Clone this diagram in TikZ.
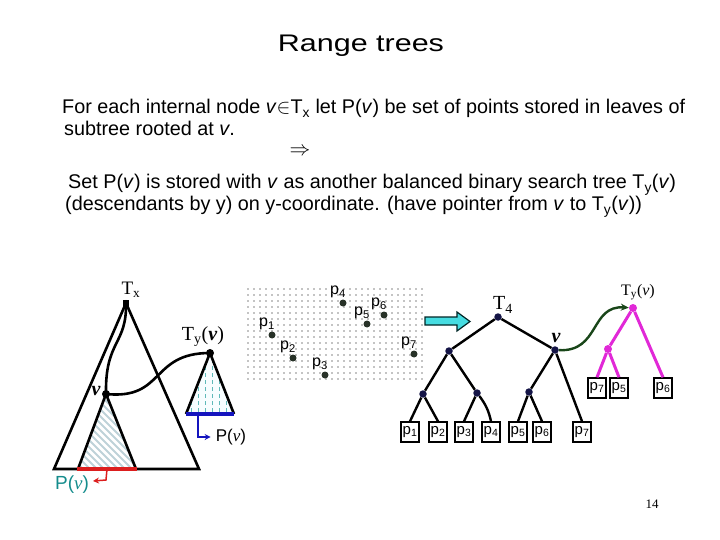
\documentclass[tikz,border=0pt]{standalone}
\usepackage{fontspec}
\setmainfont{Liberation Sans}
\newfontfamily\timesfont{Liberation Serif}
\newfontfamily\titlefont[FakeStretch=1.27]{Liberation Sans}
\usetikzlibrary{arrows.meta, positioning, calc}
\definecolor{navydot}{RGB}{20, 20, 70}
\definecolor{hatchgray}{RGB}{190, 210, 216}
\definecolor{dashteal}{RGB}{95, 185, 185}
\definecolor{pvteal}{RGB}{20, 140, 140}
\definecolor{pvred}{RGB}{220, 30, 30}
\definecolor{pvblue}{RGB}{20, 20, 190}
\definecolor{ymagenta}{RGB}{225, 40, 215}
\definecolor{ptrgreen}{RGB}{25, 70, 25}
\definecolor{arrowcyan}{RGB}{70, 220, 225}
\definecolor{dotgray}{RGB}{40, 50, 40}

\begin{document}
\begin{tikzpicture}[
    x=1pt, y=-1pt,
    tnode/.style={
        circle,
        fill=navydot,
        inner sep=0pt,
        minimum size=7.5pt
    },
    ynode/.style={
        circle,
        fill=ymagenta,
        inner sep=0pt,
        minimum size=8pt
    },
    ptdot/.style={
        circle,
        fill=dotgray,
        inner sep=0pt,
        minimum size=7pt
    },
    leafbox/.style={
        draw,
        line width=1.4pt,
        minimum width=18pt,
        minimum height=20pt,
        inner sep=0pt,
        font=\fontsize{15}{15}\selectfont
    },
    ptlabel/.style={
        inner sep=0pt,
        font=\fontsize{16}{16}\selectfont
    },
    treelabel/.style={
        inner sep=0pt,
        font=\timesfont\fontsize{19}{19}\selectfont
    },
    bodytext/.style={
        anchor=base west,
        inner sep=0pt,
        font=\fontsize{19.8}{19.8}\selectfont
    },
    edge/.style={line width=2.4pt},
    yedge/.style={line width=3pt, draw=ymagenta},
    curve/.style={line width=2.6pt}
]
    \useasboundingbox (0,0) rectangle (720,540);

    % Title and text
    \node[anchor=base, inner sep=0pt, font=\titlefont\fontsize{24}{24}\selectfont] (title) at (361,52) {Range trees};
    \node[bodytext] (line1) at (62,114) {For each internal node \textit{v}$\in$T\textsubscript{x} let P(\textit{v}) be set of points stored in leaves of};
    \node[bodytext] (line2) at (64,136) {subtree rooted at \textit{v}.};
    \node[inner sep=0pt, font=\fontsize{19.8}{19.8}\selectfont] (implies) at (300,152) {$\Rightarrow$};
    \node[bodytext] (line3) at (68,189) {Set P(\textit{v}) is stored with \textit{v} as another balanced binary search tree T\textsubscript{y}(\textit{v})};
    \node[bodytext] (line4) at (65,211) {(descendants by y) on y-coordinate. (have pointer from \textit{v} to T\textsubscript{y}(\textit{v}))};

    % Left: T_x with the subtree of v
    \node[fill, inner sep=0pt, minimum size=6pt] (txtop) at (126,303) {};
    \node[treelabel] (txlabel) at (131,290) {T\textsubscript{x}};
    \draw[line width=2.6pt] (txtop.center) -- (54,469) -- (199,469) -- cycle;
    \node[circle, fill, inner sep=0pt, minimum size=8pt] (vx) at (106,394) {};
    \node[treelabel, font=\timesfont\bfseries\itshape\fontsize{20}{20}\selectfont] (vxlabel) at (96,391) {v};
    \begin{scope}
        \clip (vx.center) -- (78,469) -- (136,469) -- cycle;
        \foreach \s in {-20,-13,...,130}
            \draw[hatchgray, line width=2pt] (\s,380) -- ++(100,100);
    \end{scope}
    \draw[line width=2.6pt] (78,469) -- (vx.center) -- (136,469);
    \draw[pvred, line width=3.5pt] (77,469) -- coordinate (redmid) (137,469);
    \node[inner sep=0pt, text=pvteal, font=\fontsize{19}{19}\selectfont] (pvleft) at (72,485) {P({\timesfont\itshape v})};
    \draw[pvred, line width=1.5pt, -{Stealth[length=6pt, width=6pt]}] (redmid) -- ++(-1,11) -- ++(-13,1);

    % Left: T_y(v)
    \node[circle, fill, inner sep=0pt, minimum size=8pt] (tyroot) at (210,353) {};
    \node[treelabel, font=\timesfont\fontsize{20}{20}\selectfont] (tylabel) at (203,337) {T\textsubscript{y}(\textbf{\textit{v}})};
    \fill[cyan!3] (tyroot.center) -- (186,414) -- (234,414) -- cycle;
    \begin{scope}
        \clip (tyroot.center) -- (186,414) -- (234,414) -- cycle;
        \foreach \x in {191,198,...,232}
            \draw[dashteal, line width=1pt, dash pattern=on 4pt off 3pt] (\x,352) -- (\x,414);
    \end{scope}
    \draw[line width=2.6pt] (186,414) -- (tyroot.center) -- (234,414);
    \draw[pvblue, line width=3.5pt] (186,414) -- coordinate[pos=0.25] (bluemid) (234,414);
    \node[inner sep=0pt, font=\fontsize{17}{17}\selectfont] (pvright) at (231,437) {P({\timesfont\itshape v})};
    \draw[pvblue, line width=1.5pt, -{Stealth[length=6pt, width=6pt]}] (bluemid) |- ([xshift=-5pt]pvright.west);

    % pointers
    \draw[curve] (txtop.center) .. controls (127,345) and (105,340) .. (vx.center);
    \draw[curve] (vx.center) .. controls (165,400) and (150,353) .. (tyroot.center);

    % Point set
    \foreach \i in {0,...,29}
        \foreach \j in {0,...,15}
            \fill (248+6*\i,289+6*\j) circle (0.6pt);
    \foreach \k/\x/\y in {1/272/335, 2/293/358, 3/325/375, 4/343/303, 5/367/324, 6/384/315, 7/414/354} {
        \node[ptdot] (p\k) at (\x,\y) {};
        \node[ptlabel] (p\k label) at ([shift={(-5,-11)}]p\k) {p\textsubscript{\k}};
    }

    % Block arrow
    \draw[line width=1.2pt, draw=black!70!teal, fill=arrowcyan] (425,317) -- (457,317) -- (457,312) -- (470,321.5) -- (457,331) -- (457,325) -- (425,325) -- cycle;

    % Right: T_4
    \node[tnode] (root) at (498,317) {};
    \node[treelabel, font=\timesfont\fontsize{20}{20}\selectfont] (rootlabel) at (503,305) {T\textsubscript{4}};
    \node[tnode] (nl) at (449,351) {};
    \node[tnode] (nv) at (555,350) {};
    \node[treelabel, font=\timesfont\bfseries\itshape\fontsize{20}{20}\selectfont] (nvlabel) at (556,338) {v};
    \node[tnode] (nll) at (423,394) {};
    \node[tnode] (nlr) at (477,393) {};
    \node[tnode] (nvl) at (529,392) {};
    \foreach \k/\x in {1/410, 2/438, 3/464, 4/491, 5/518, 6/542, 7/582}
        \node[leafbox] (l\k) at (\x,432) {p\textsubscript{\k}};

    \draw[edge] (root) -- (nl);
    \draw[edge] (root) -- (nv);
    \draw[edge] (nl) -- (nll);
    \draw[edge] (nl) -- (nlr);
    \draw[edge] (nv) -- (nvl);
    \draw[edge] (nv) -- (l7.north);
    \draw[edge] (nll) -- (l1.north);
    \draw[edge] (nll) -- (l2.north);
    \draw[edge] (nlr) -- (l3.north);
    \draw[edge] (nlr) to[bend left=12] (l4.north);
    \draw[edge] (nvl) -- (l5.north);
    \draw[edge] (nvl) -- (l6.north);

    % Right: T_y(v)
    \node[ynode] (yroot) at (633,308) {};
    \node[treelabel, font=\timesfont\fontsize{16}{16}\selectfont] (yrootlabel) at (638,292) {T\textsubscript{y}(\textit{v})};
    \node[ynode] (ychild) at (608,349) {};
    \foreach \k/\x in {7/597, 5/619, 6/663}
        \node[leafbox] (m\k) at (\x,388) {p\textsubscript{\k}};
    \draw[yedge] (yroot) -- (ychild);
    \draw[yedge] (ychild) -- (m7.north);
    \draw[yedge] (ychild) -- (m5.north);
    \draw[yedge] (yroot) -- (m6.north);

    \draw[curve, ptrgreen, line width=2.4pt, -{Stealth[length=8pt, width=7pt]}] (nv) .. controls (600,352) and (590,305) .. (yroot);

    % Page number
    \node[inner sep=0pt, font=\timesfont\fontsize{13}{13}\selectfont] (pagenum) at (652,504) {14};
\end{tikzpicture}
\end{document}
